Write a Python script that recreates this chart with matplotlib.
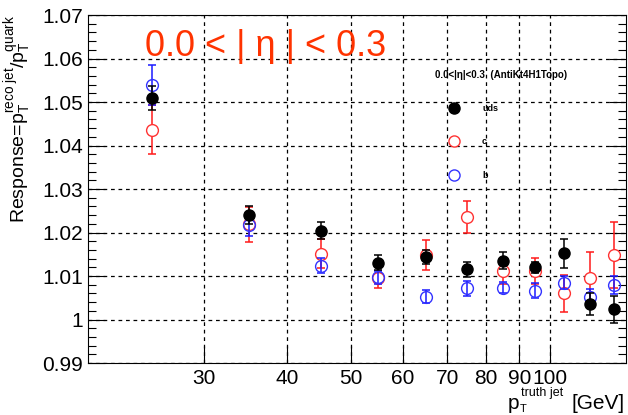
import matplotlib
matplotlib.use('Agg')
import matplotlib.pyplot as plt
import numpy as np
from matplotlib.ticker import FixedLocator, NullFormatter, MultipleLocator

plt.rcParams['font.family'] = ['Liberation Sans', 'DejaVu Sans']
plt.rcParams['mathtext.fontset'] = 'custom'
plt.rcParams['mathtext.rm'] = 'Liberation Sans'
plt.rcParams['mathtext.it'] = 'Liberation Sans'

# bin centres of pT truth jet [GeV]
pt = [25, 35, 45, 55, 65, 75, 85, 95, 105, 115, 125]

# uds (black filled)
uds = [1.0509, 1.0240, 1.0204, 1.0131, 1.0143, 1.0115, 1.0135, 1.0120, 1.0152, 1.0036, 1.0023]
uds_err = [0.0027, 0.0020, 0.0019, 0.0017, 0.0016, 0.0018, 0.0020, 0.0012, 0.0033, 0.0025, 0.0030]

# c (red open)
c = [1.0436, 1.0219, 1.0151, 1.0096, 1.0148, 1.0236, 1.0112, 1.0112, 1.0060, 1.0095, 1.0148]
c_err = [0.0056, 0.0040, 0.0033, 0.0024, 0.0034, 0.0036, 0.0030, 0.0030, 0.0043, 0.0060, 0.0075]

# b (blue open)
b = [1.0539, 1.0217, 1.0124, 1.0097, 1.0052, 1.0072, 1.0073, 1.0066, 1.0085, 1.0051, 1.0079]
b_err = [0.0045, 0.0025, 0.0018, 0.0015, 0.0015, 0.0017, 0.0013, 0.0017, 0.0016, 0.0018, 0.0021]

xticks = [30, 40, 50, 60, 70, 80, 90, 100]
ytick_labels = ['0.99', '1', '1.01', '1.02', '1.03', '1.04', '1.05', '1.06', '1.07']


def fy(y):
    # figure fraction from pixel row
    return 1 - y / 415


def fx(x):
    return x / 628


fig = plt.figure(figsize=(6.28, 4.15), dpi=100)
ax = fig.add_axes([fx(88), fy(363), (626 - 88) / 628, (363 - 15) / 415])

ax.set_xscale('log')
ax.set_xlim(20, 130.5)
ax.set_ylim(0.99, 1.07)

ekw = dict(linestyle='none', capsize=3, elinewidth=1.1, capthick=1.1)
ax.errorbar(pt, c, yerr=c_err, marker='o', ms=8.5, mfc='white', mec='#ff3333',
            color='#ff1a1a', zorder=3, **ekw)
ax.errorbar(pt, b, yerr=b_err, marker='o', ms=8.5, mfc='none', mec='#3333ff',
            color='#1a1aff', zorder=4, **ekw)
ax.errorbar(pt, uds, yerr=uds_err, marker='o', ms=8, mfc='black', mec='black',
            color='black', zorder=5, **ekw)

# axes / ticks
ax.set_xticks(xticks)
ax.set_xticklabels([str(t) for t in xticks])
ax.xaxis.set_minor_locator(FixedLocator([]))
ax.xaxis.set_minor_formatter(NullFormatter())
ax.set_yticks(np.arange(0.99, 1.0701, 0.01))
ax.set_yticklabels(ytick_labels)
ax.yaxis.set_minor_locator(MultipleLocator(0.002))
ax.tick_params(axis='both', which='major', direction='in', length=12, labelsize=15,
               right=True, top=False, width=0.8)
ax.tick_params(axis='y', which='minor', direction='in', length=6, right=True, width=0.8)
ax.tick_params(axis='x', which='major', pad=4)
ax.grid(True, which='major', linestyle=(0, (3, 3)), color='black', linewidth=0.9)

ax.set_ylabel(r'Response=p$_{\mathregular{T}}^{\mathregular{reco\ jet}}$/p$_{\mathregular{T}}^{\mathregular{quark}}$',
              fontsize=14, loc='top', labelpad=6)

# x label built from pieces, ROOT style
fig.text(fx(625), fy(409), '[GeV]', fontsize=15, ha='right', va='baseline')
fig.text(fx(508), fy(409), 'p', fontsize=15, ha='left', va='baseline')
fig.text(fx(521), fy(393), 'truth jet', fontsize=9, ha='left', va='center')
fig.text(fx(520), fy(404), 'T', fontsize=8, ha='left', va='top')

# big eta label
fig.text(fx(145), fy(47), u'0.0 < | \u03b7 | < 0.3', fontsize=26, color='#ff3300',
         va='center', ha='left')

# legend
fig.text(fx(435), fy(75), u'0.0<|\u03b7|<0.3  (AntiKt4H1Topo)',
         fontsize=7, fontweight='bold', va='center', ha='left')
leg_y = [108, 141, 175]
leg_lab = ['uds', 'c', 'b']
leg_style = [dict(mfc='black', mec='black'), dict(mfc='white', mec='#ff3333'),
             dict(mfc='white', mec='#3333ff')]
for yy, lab, st in zip(leg_y, leg_lab, leg_style):
    fig.lines.append(plt.Line2D([fx(454)], [fy(yy)], marker='o', ms=8,
                                transform=fig.transFigure, linestyle='none', **st))
    fig.text(fx(482), fy(yy), lab, fontsize=6.5, fontweight='bold', va='center')

fig.savefig('out.png', dpi=100)
